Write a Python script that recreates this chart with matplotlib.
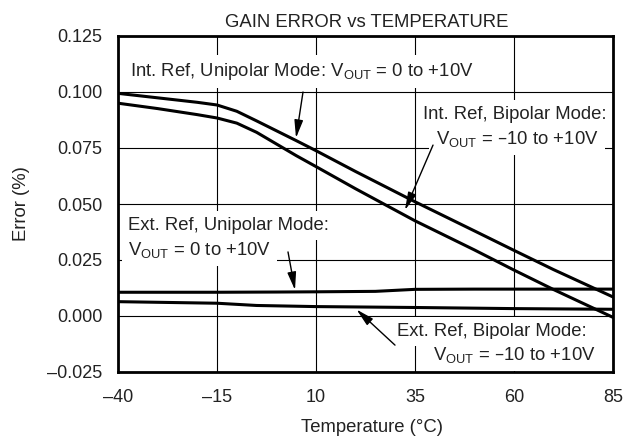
import matplotlib
matplotlib.use("Agg")
import matplotlib.pyplot as plt
from matplotlib.ticker import FixedLocator, FixedFormatter

plt.rcParams['font.family'] = ['Liberation Sans', 'DejaVu Sans']
plt.rcParams['mathtext.default'] = 'regular'

# ---- data ----
temp_int = [-40, -30, -20, -15, -10, -5, 0, 5, 10, 20, 35, 50, 60, 70, 85]
int_unipolar = [0.0994, 0.0974, 0.0954, 0.0942, 0.0914, 0.0871, 0.0827, 0.0783,
                0.0738, 0.0645, 0.0510, 0.0380, 0.0293, 0.0207, 0.0085]
int_bipolar = [0.0950, 0.0926, 0.0899, 0.0884, 0.0861, 0.0820, 0.0768, 0.0716,
               0.0667, 0.0568, 0.0425, 0.0295, 0.0205, 0.0118, -0.0006]

temp_ext_uni = [-40, -15, 0, 10, 25, 35, 50, 85]
ext_unipolar = [0.0106, 0.0106, 0.0107, 0.0108, 0.0110, 0.0119, 0.0120, 0.0120]

temp_ext_bip = [-40, -15, -5, 10, 35, 60, 85]
ext_bipolar = [0.0064, 0.0057, 0.0047, 0.0042, 0.0038, 0.0033, 0.0030]

x_ticks = [-40, -15, 10, 35, 60, 85]
x_tick_labels = ['\u201340', '\u201315', '10', '35', '60', '85']
y_ticks = [-0.025, 0.0, 0.025, 0.050, 0.075, 0.100, 0.125]
y_tick_labels = ['\u20130.025', '0.000', '0.025', '0.050', '0.075', '0.100', '0.125']

title = 'GAIN ERROR vs TEMPERATURE'
xlabel = 'Temperature (\u00b0C)'
ylabel = 'Error (%)'

# ---- figure ----
W, H = 623, 441
fig = plt.figure(figsize=(W / 100, H / 100), dpi=100)
ax = fig.add_axes([118 / W, 1 - 372 / H, (613 - 118) / W, (372 - 36) / H])

ax.set_xlim(-40, 85)
ax.set_ylim(-0.025, 0.125)
ax.xaxis.set_major_locator(FixedLocator(x_ticks))
ax.xaxis.set_major_formatter(FixedFormatter(x_tick_labels))
ax.yaxis.set_major_locator(FixedLocator(y_ticks))
ax.yaxis.set_major_formatter(FixedFormatter(y_tick_labels))
ax.tick_params(length=0, labelsize=13, colors='#222222')
ax.tick_params(axis='y', pad=11)
ax.tick_params(axis='x', pad=12)
ax.grid(True, color='black', lw=0.8, zorder=0)
ax.set_axisbelow(True)
for s in ax.spines.values():
    s.set_linewidth(2.0)
    s.set_zorder(10)

lw = 2.2
ax.plot(temp_int, int_unipolar, color='black', lw=lw, zorder=5, solid_joinstyle='round')
ax.plot(temp_int, int_bipolar, color='black', lw=lw, zorder=5, solid_joinstyle='round')
ax.plot(temp_ext_uni, ext_unipolar, color='black', lw=lw, zorder=5)
ax.plot(temp_ext_bip, ext_bipolar, color='black', lw=lw, zorder=5)

fs = 13.3
box = dict(facecolor='white', edgecolor='none', pad=4.5)
tkw = dict(fontsize=fs, color='#222222', va='baseline', zorder=3, bbox=box)

ax.text(-36.97, 0.1071, 'Int. Ref, Unipolar Mode: V$_{OUT}$ = 0 to +10V', ha='left', **tkw)
ax.text(60.25, 0.0880, 'Int. Ref, Bipolar Mode:', ha='center', **tkw)
ax.text(60.76, 0.0768, 'V$_{OUT}$ = \u201310 to +10V', ha='center', **tkw)
ax.text(-37.47, 0.0384, 'Ext. Ref, Unipolar Mode:', ha='left', **tkw)
ax.text(-37.47, 0.0272, 'V$_{OUT}$ = 0 to +10V', ha='left', **tkw)
ax.text(30.35, -0.0089, 'Ext. Ref, Bipolar Mode:', ha='left', **tkw)
ax.text(39.55, -0.0196, 'V$_{OUT}$ = \u201310 to +10V', ha='left', **tkw)

akw = dict(arrowstyle='-|>,head_length=0.9,head_width=0.22', color='black', lw=1.0,
           mutation_scale=12, shrinkA=0, shrinkB=0)
ax.annotate('', xy=(4.95, 0.0795), xytext=(6.72, 0.1000), arrowprops=akw, zorder=6)
ax.annotate('', xy=(32.47, 0.0473), xytext=(39.55, 0.0763), arrowprops=akw, zorder=6)
ax.annotate('', xy=(4.70, 0.0116), xytext=(2.93, 0.0286), arrowprops=akw, zorder=6)
ax.annotate('', xy=(20.23, 0.0029), xytext=(29.95, -0.0130), arrowprops=akw, zorder=6)

fig.text(367 / W, 1 - 27 / H, title, ha='center', va='baseline', fontsize=fs, color='#222222')
fig.text(372 / W, 1 - 428 / H, xlabel, ha='center', va='center', fontsize=fs, color='#222222')
fig.text(22 / W, 1 - 204 / H, ylabel, ha='center', va='center', rotation=90, fontsize=fs,
         color='#222222')

fig.savefig('out.png', dpi=100, facecolor='white')
